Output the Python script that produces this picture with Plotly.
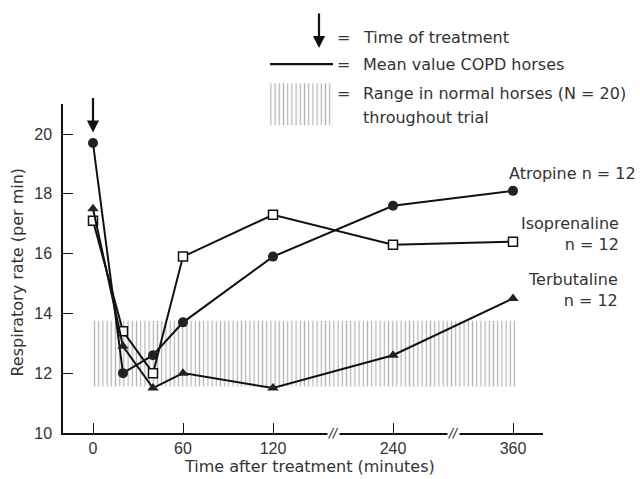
import plotly.graph_objects as go

# ---------------- data ----------------
times = [0, 20, 40, 60, 120, 240, 360]
atropine = [19.7, 12.0, 12.6, 13.7, 15.9, 17.6, 18.1]
isoprenaline = [17.1, 13.4, 12.0, 15.9, 17.3, 16.3, 16.4]
terbutaline = [17.5, 12.9, 11.5, 12.0, 11.5, 12.6, 14.5]
normal_low = 11.55
normal_high = 13.75
normal_start = 0
normal_end = 362
tick_minutes = [0, 60, 120, 240, 360]
tick_labels = ["0", "60", "120", "240", "360"]
y_ticks = [10, 12, 14, 16, 18, 20]
series_names = ["Atropine n = 12", "Isoprenaline<br>n = 12", "Terbutaline<br>n = 12"]


# broken time scale: 0-120 full scale, beyond 120 compressed (axis breaks)
def pos(t):
    return t if t <= 120 else 120 + (t - 120) * 2.0 / 3.0


W, H = 640, 479          # design space (reference pixels)
HF = 489                 # rendered figure height (capture is scaled to 479)
FONT = "DejaVu Sans"
NUMFONT = "Liberation Sans"
FS = 16
TXT = "#333333"

xs = [pos(t) for t in times]

fig = go.Figure()

# normal range band (hatched)
bx = [pos(normal_start), pos(normal_end), pos(normal_end), pos(normal_start), pos(normal_start)]
by = [normal_low, normal_low, normal_high, normal_high, normal_low]
hatch = dict(shape="|", size=4.2, solidity=0.3, fgcolor="#6a6a6a", bgcolor="white")
fig.add_trace(go.Scatter(x=bx, y=by, mode="lines", fill="toself", fillcolor="white",
                         fillpattern=hatch, line=dict(width=0), hoverinfo="skip",
                         showlegend=False))

line_style = dict(color="#111111", width=2)
fig.add_trace(go.Scatter(x=xs, y=atropine, mode="lines+markers", line=line_style,
                         marker=dict(symbol="circle", size=10, color="#222222"),
                         showlegend=False, cliponaxis=False))
fig.add_trace(go.Scatter(x=xs, y=isoprenaline, mode="lines+markers", line=line_style,
                         marker=dict(symbol="square", size=9, color="white",
                                     line=dict(color="#111111", width=1.5)),
                         showlegend=False, cliponaxis=False))
fig.add_trace(go.Scatter(x=xs, y=terbutaline, mode="lines+markers", line=line_style,
                         marker=dict(symbol="triangle-up", size=10, color="#222222"),
                         showlegend=False, cliponaxis=False))

# ---- legend key drawn on a pixel-space overlay subplot ----
lg_hx = [268, 333, 333, 268, 268]
lg_hy = [83, 83, 125, 125, 83]
fig.add_trace(go.Scatter(x=lg_hx, y=lg_hy, xaxis="x2", yaxis="y2", mode="lines",
                         fill="toself", fillcolor="white", fillpattern=hatch,
                         line=dict(width=0), hoverinfo="skip", showlegend=False))
fig.add_trace(go.Scatter(x=[270, 333], y=[64, 64], xaxis="x2", yaxis="y2", mode="lines",
                         line=dict(color="#111111", width=2.2), hoverinfo="skip",
                         showlegend=False))

annotations = []


def px_text(x, y, text, anchor="left", size=FS):
    annotations.append(dict(xref="x2", yref="y2", x=x, y=y, text=text, showarrow=False,
                            xanchor=anchor, yanchor="middle", align=anchor if anchor != "center" else "center",
                            font=dict(family=FONT, size=size, color=TXT)))


px_text(343, 37, "=", anchor="center")
px_text(361, 37, "Time of treatment")
px_text(343, 64, "=", anchor="center")
px_text(361, 64, "Mean value COPD horses")
px_text(343, 93, "=", anchor="center")
px_text(361, 93, "Range in normal horses (N = 20)")
px_text(361, 117, "throughout trial")

# legend arrow
annotations.append(dict(xref="x2", yref="y2", x=319, y=48, ax=319, ay=12,
                        axref="x2", ayref="y2", text="", showarrow=True,
                        arrowhead=2, arrowsize=1.1, arrowwidth=2.2, arrowcolor="#111111"))
# treatment arrow at t = 0
annotations.append(dict(xref="x", yref="y", x=pos(0), y=20.05, ax=0, ay=-36,
                        text="", showarrow=True, arrowhead=2, arrowsize=1.1,
                        arrowwidth=2.2, arrowcolor="#111111"))

# series labels
px_text(638, 173, series_names[0], anchor="right")
px_text(621, 234, series_names[1], anchor="right")
px_text(620, 289, series_names[2], anchor="right")

# axis breaks
for bxp in [(pos(120) + pos(240)) / 2, (pos(240) + pos(360)) / 2]:
    annotations.append(dict(xref="x", yref="y", x=bxp, y=10, text="<i>//</i>",
                            showarrow=False, xanchor="center", yanchor="middle",
                            bgcolor="white", borderpad=0,
                            font=dict(family=FONT, size=12, color="#111111")))

# axis titles
px_text(309, 466, "Time after treatment (minutes)", anchor="center")
annotations.append(dict(xref="x2", yref="y2", x=18, y=272, text="Respiratory rate (per min)",
                        showarrow=False, textangle=-90, xanchor="center", yanchor="middle",
                        font=dict(family=FONT, size=FS, color=TXT)))

x0p, x1p = 63, 543
y0p, y1p = 432, 104

fig.update_layout(
    width=W, height=HF,
    margin=dict(l=0, r=0, t=0, b=0),
    paper_bgcolor="white", plot_bgcolor="rgba(0,0,0,0)",
    showlegend=False,
    annotations=annotations,
    xaxis=dict(domain=[x0p / W, x1p / W], range=[-20, 300],
               tickvals=[pos(t) for t in tick_minutes], ticktext=tick_labels,
               ticks="inside", ticklen=10, tickwidth=1.3, tickcolor="#111111",
               showline=True, linecolor="#111111", linewidth=1.5,
               showgrid=False, zeroline=False, anchor="y",
               tickfont=dict(family=NUMFONT, size=16, color=TXT), ticklabelstandoff=0),
    yaxis=dict(domain=[(H - y0p) / H, (H - y1p) / H], range=[10, 21],
               tickvals=y_ticks, ticks="inside", ticklen=10, tickwidth=1.3,
               tickcolor="#111111", showline=True, linecolor="#111111", linewidth=1.5,
               showgrid=False, zeroline=False, anchor="x",
               tickfont=dict(family=NUMFONT, size=16, color=TXT), ticklabelstandoff=6),
    xaxis2=dict(domain=[0, 1], range=[0, W], visible=False, anchor="y2", fixedrange=True),
    yaxis2=dict(domain=[0, 1], range=[H, 0], visible=False, anchor="x2", fixedrange=True),
)

post = """
var s = document.documentElement.style, b = document.body.style;
b.margin = '0px'; b.padding = '0px'; b.overflow = 'hidden';
s.overflow = 'hidden';
"""
fig.write_html("out.html", post_script=post, config={"displayModeBar": False})
